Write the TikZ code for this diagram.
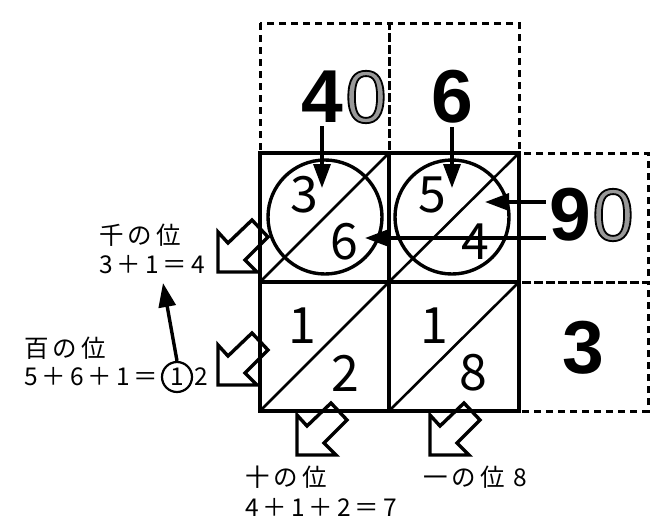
\documentclass[tikz,border=0pt]{standalone}
\usepackage{fontspec}
\setmainfont{Noto Sans CJK JP}
\newfontfamily\jpfont[LetterSpace=16]{Noto Sans CJK JP}
\newfontfamily\bigfont{Liberation Sans}
\usetikzlibrary{arrows.meta,positioning}
\newcommand\outlined[1]{\special{pdf:literal direct 2 Tr 1.8 w 0 0 0 RG}#1\special{pdf:literal direct 0 Tr}}

\begin{document}
\begin{tikzpicture}[x=1pt,y=-1pt,
  lbl/.style={font=\jpfont\fontsize{24.5pt}{28pt}\selectfont, inner sep=0pt, anchor=west},
  cellnum/.style={font=\fontsize{50pt}{56pt}\selectfont, inner sep=0pt},
  bignum/.style={font=\bigfont\bfseries\fontsize{75pt}{80pt}\selectfont, inner sep=3pt},
  graynum/.style={font=\bigfont\fontsize{74pt}{80pt}\selectfont, inner sep=0pt, text=black!40},
  gridline/.style={line width=3.6pt},
  diag/.style={line width=2.6pt},
  dashbox/.style={line width=3pt, dash pattern=on 7pt off 5pt},
  ring/.style={line width=3.4pt},
  pointer/.style={line width=3.4pt, -{Triangle[length=24pt,width=17pt]}},
  blockarrow/.style={line width=3.4pt, line join=miter}]
\useasboundingbox (0,0) rectangle (660,531);
% dashed helper boxes
\draw[dashbox] (260,23) rectangle (389,153) (389,23) rectangle (519,153)
  (519,153) rectangle (648,282) (519,282) rectangle (648,411);
% lattice
\draw[gridline] (260,153) rectangle (519,411) (389,153) -- (389,411) (260,282) -- (519,282);
\draw[diag] (260,282) -- (389,153) (389,282) -- (519,153)
  (260,411) -- (389,282) (389,411) -- (519,282);
\draw[ring] (325,217) circle (57) (452,217) circle (57);
\foreach \x/\y/\d [count=\i] in {304/195/3, 344/242/6, 432/195/5, 475/242/4,
  302/326/1, 345/373/2, 434/326/1, 473/373/8}
  \node[cellnum] (cell\i) at (\x,\y) {\d};
% factors
\node[bignum] (four) at (322,97) {4};
\node[graynum] (zerotop) at (366,97) {\outlined{0}};
\node[bignum] (six) at (452,97) {6};
\node[bignum] (nine) at (570,215) {9};
\node[graynum] (zeroright) at (613,215) {\outlined{0}};
\node[bignum] (three) at (583,348) {3};
\coordinate (t4) at (322,188);
\coordinate (t6) at (452,188);
\coordinate (t9) at (485,202);
\coordinate (t90) at (365,238);
\draw[pointer] (four.south) -- (t4);
\draw[pointer] (six.south) -- (t6);
\draw[pointer] ([yshift=13pt]nine.west) -- (t9);
\draw[pointer] ([yshift=-23pt]nine.west) -- (t90);
% sums along the diagonals
\foreach \x/\y in {218/272, 218/385, 297/455, 430/455}
  \draw[blockarrow] (\x,\y) -- ++(0,-40) -- ++(10,11) -- ++(24,-23) -- ++(16,17)
    -- ++(-23,23) -- ++(12,12) -- cycle;
\node[lbl] (sen) at (99,235) {千の位};
\node[lbl] (seneq) at (99,265) {3＋1＝4};
\node[lbl] (hyaku) at (24,348) {百の位};
\node[lbl] (hyakueq) at (24,377) {5＋6＋1＝};
\node[circle, draw, line width=2.2pt, minimum size=30pt, inner sep=0pt,
  font=\fontsize{24.5pt}{28pt}\selectfont] (maru) at (177,377) {1};
\node[lbl, right=1pt of maru] (hyakuend) {2};
\node[lbl] (juu) at (245,477) {十の位};
\node[lbl] (juueq) at (245,507) {4＋1＋2＝7};
\node[lbl] (ichi) at (423,477) {一の位 8};
\coordinate (tsen) at (163,283);
\draw[pointer] (maru.north) -- (tsen);
\end{tikzpicture}
\end{document}
